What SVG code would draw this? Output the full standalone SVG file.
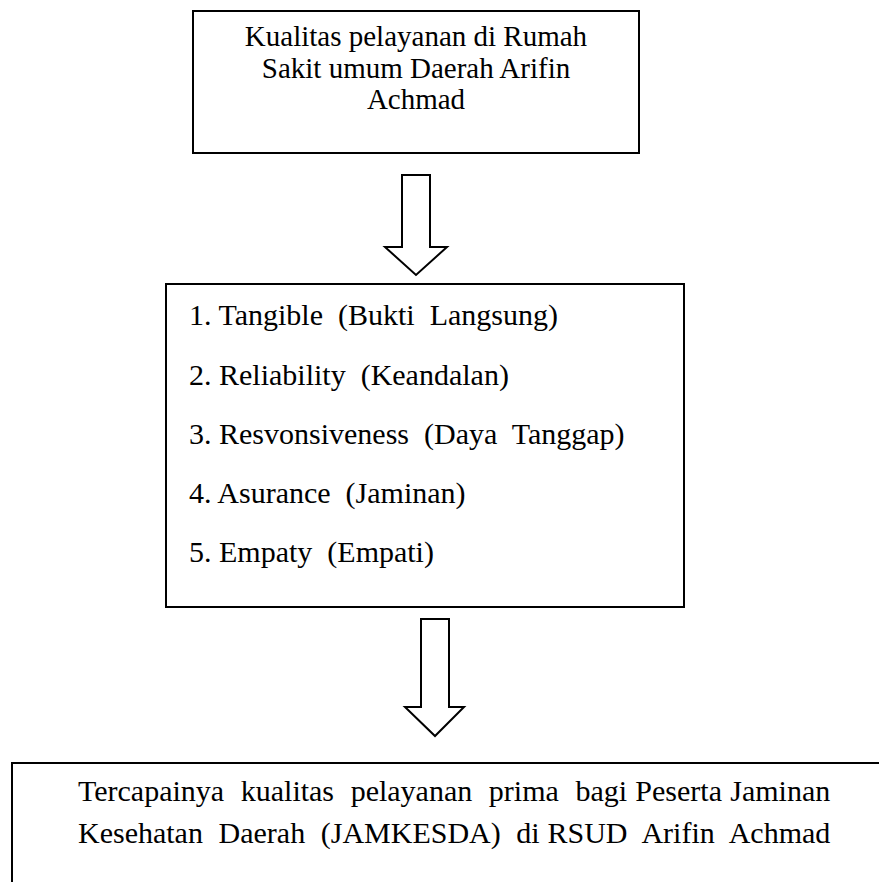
<svg xmlns="http://www.w3.org/2000/svg" width="879" height="882" viewBox="0 0 879 882">
<style>
.box{fill:none;stroke:#000;stroke-width:2}
.arr{fill:#fff;stroke:#000;stroke-width:2;stroke-linejoin:miter}
.t{font-family:'Liberation Serif','Times New Roman','DejaVu Serif',serif;fill:#000}
.s29{font-size:29px}
.s30{font-size:30px}
.c{text-anchor:middle}
</style>
<rect width="879" height="882" fill="#fff"/>
<g id="node-top">
<rect class="box" x="193" y="11" width="446" height="142"/>
<text class="t s29 c" x="416" y="46">Kualitas pelayanan di Rumah</text>
<text class="t s29 c" x="416" y="77.5">Sakit umum Daerah Arifin</text>
<text class="t s29 c" x="416" y="109">Achmad</text>
</g>
<g id="node-middle">
<rect class="box" x="166" y="284" width="518" height="323"/>
<text class="t s30" x="189" y="325" xml:space="preserve">1. Tangible  (Bukti  Langsung)</text>
<text class="t s30" x="189" y="385" xml:space="preserve">2. Reliability  (Keandalan)</text>
<text class="t s30" x="189" y="444" xml:space="preserve">3. Resvonsiveness  (Daya  Tanggap)</text>
<text class="t s30" x="189" y="503" xml:space="preserve">4. Asurance  (Jaminan)</text>
<text class="t s30" x="189" y="562" xml:space="preserve">5. Empaty  (Empati)</text>
</g>
<g id="node-bottom">
<rect class="box" x="12" y="763" width="880" height="140"/>
<text class="t s30" x="78" y="801" word-spacing="0.8" xml:space="preserve">Tercapainya  kualitas  pelayanan  prima  bagi Peserta Jaminan</text>
<text class="t s30" x="78" y="843" word-spacing="0.3" xml:space="preserve">Kesehatan  Daerah  (JAMKESDA)  di RSUD  Arifin  Achmad</text>
</g>
<g id="connectors">
<polygon class="arr" points="402,175 430,175 430,247 447,247 416,275 385,247 402,247"/>
<polygon class="arr" points="421,619 449,619 449,707 464,707 435,736 405,707 421,707"/>
</g>
</svg>
